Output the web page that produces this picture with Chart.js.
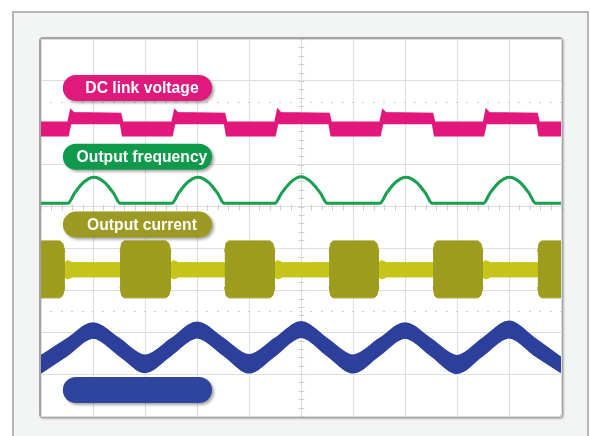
<!DOCTYPE html>
<html>
<head>
<meta charset="utf-8">
<title>Inverter waveforms</title>
<script src="https://cdn.jsdelivr.net/npm/chart.js@4.4.1/dist/chart.umd.min.js"></script>
<style>
  html, body { margin: 0; padding: 0; background: #ffffff; }
  body { width: 590px; height: 436px; position: relative; overflow: hidden; }
  #frame {
    position: absolute; left: 12px; top: 11px; width: 577px; height: 440px;
    background: #f3f5f4; border: 2px solid #b6b6b6; box-sizing: border-box;
  }
  #screen {
    position: absolute; left: 39px; top: 37px; width: 524px; height: 381px;
    background: #ffffff; border: 2px solid #a4a4a4; border-radius: 4px;
    box-sizing: border-box; box-shadow: 1px 1px 2px rgba(0,0,0,0.25);
  }
  #scope { position: absolute; left: 0; top: 0; }
</style>
</head>
<body>
<div id="frame"></div>
<div id="screen"></div>
<canvas id="scope" width="590" height="436"></canvas>
<script>
// Time axis in screen divisions (0..10), levels in vertical divisions (0..9 from bottom).

// DC link voltage: noisy band, upper and lower edge
const dcTime  = [0, 0.52, 0.57, 0.63, 1.53, 1.57, 2.52, 2.57, 2.63, 3.53, 3.57, 4.50, 4.55, 4.61, 5.54, 5.58, 6.52, 6.57, 6.63, 7.53, 7.57, 8.51, 8.56, 8.62, 9.54, 9.58, 10];
const dcUpper = [7.01, 7.01, 7.31, 7.24, 7.22, 7.01, 7.01, 7.31, 7.24, 7.22, 7.01, 7.01, 7.32, 7.24, 7.22, 7.01, 7.01, 7.31, 7.24, 7.22, 7.01, 7.01, 7.32, 7.24, 7.22, 7.01, 7.01];
const dcLower = [6.69, 6.69, 6.98, 6.98, 6.98, 6.69, 6.69, 6.98, 6.98, 6.98, 6.69, 6.69, 6.98, 6.98, 6.98, 6.69, 6.69, 6.98, 6.98, 6.98, 6.69, 6.69, 6.98, 6.98, 6.98, 6.69, 6.69];

// Output frequency: baseline with rounded humps
const freqTime  = [0, 0.52, 0.64, 0.82, 1.02, 1.22, 1.40, 1.52, 2.52, 2.64, 2.82, 3.02, 3.22, 3.40, 3.52, 4.50, 4.62, 4.80, 5.00, 5.20, 5.38, 5.50, 6.52, 6.64, 6.82, 7.02, 7.22, 7.40, 7.52, 8.51, 8.63, 8.81, 9.01, 9.21, 9.39, 9.51, 10];
const freqValue = [5.08, 5.08, 5.31, 5.58, 5.70, 5.58, 5.31, 5.08, 5.08, 5.31, 5.58, 5.70, 5.58, 5.31, 5.08, 5.08, 5.31, 5.58, 5.71, 5.58, 5.31, 5.08, 5.08, 5.31, 5.58, 5.70, 5.58, 5.31, 5.08, 5.08, 5.31, 5.58, 5.70, 5.58, 5.31, 5.08, 5.08];

// Output current, idle band between bursts
const idleTime  = [0, 0.46, 0.50, 0.56, 0.60, 1.52, 2.50, 2.54, 2.60, 2.64, 3.53, 4.50, 4.54, 4.60, 4.64, 5.54, 6.50, 6.54, 6.60, 6.64, 7.54, 8.50, 8.54, 8.60, 8.64, 9.55, 10];
const idleUpper = [3.66, 3.66, 3.71, 3.69, 3.66, 3.66, 3.66, 3.71, 3.69, 3.66, 3.66, 3.66, 3.71, 3.69, 3.66, 3.66, 3.66, 3.71, 3.69, 3.66, 3.66, 3.66, 3.71, 3.69, 3.66, 3.66, 3.66];
const idleLower = [3.32, 3.32, 3.27, 3.29, 3.32, 3.32, 3.32, 3.27, 3.29, 3.32, 3.32, 3.32, 3.27, 3.29, 3.32, 3.32, 3.32, 3.27, 3.29, 3.32, 3.32, 3.32, 3.27, 3.29, 3.32, 3.32, 3.32];

// Output current bursts (null separates one burst from the next)
const burstTime  = [0, 0.36, 0.42, 0.46, 1.0, 1.52, 1.55, 1.60, 2.40, 2.46, 2.50, 3.0, 3.53, 3.56, 3.61, 4.40, 4.46, 4.50, 5.0, 5.54, 5.57, 5.62, 6.40, 6.46, 6.50, 7.0, 7.54, 7.57, 7.62, 8.40, 8.46, 8.50, 9.0, 9.55, 9.58, 9.63, 10];
const burstUpper = [4.18, 4.18, 4.12, 3.92, null, 3.92, 4.13, 4.18, 4.18, 4.12, 3.92, null, 3.92, 4.13, 4.18, 4.18, 4.12, 3.92, null, 3.92, 4.13, 4.18, 4.18, 4.12, 3.92, null, 3.92, 4.13, 4.18, 4.18, 4.12, 3.92, null, 3.92, 4.13, 4.18, 4.18];
const burstLower = [2.82, 2.82, 2.88, 3.08, null, 3.08, 2.87, 2.82, 2.82, 2.88, 3.08, null, 3.08, 2.87, 2.82, 2.82, 2.88, 3.08, null, 3.08, 2.87, 2.82, 2.82, 2.88, 3.08, null, 3.08, 2.87, 2.82, 2.82, 2.88, 3.08, null, 3.08, 2.87, 2.82, 2.82];

// Fourth channel: sinusoidal band
const waveTime  = [0, 0.5, 1, 1.5, 2, 2.5, 3, 3.5, 4, 4.5, 5, 5.5, 6, 6.5, 7, 7.5, 8, 8.5, 9, 9.5, 10];
const waveUpper = [1.44, 1.84, 2.22, 1.85, 1.45, 1.84, 2.24, 1.86, 1.46, 1.85, 2.25, 1.85, 1.45, 1.84, 2.22, 1.84, 1.44, 1.86, 2.26, 1.85, 1.40];
const waveLower = [1.03, 1.44, 1.86, 1.45, 1.04, 1.45, 1.87, 1.46, 1.03, 1.44, 1.88, 1.45, 1.03, 1.44, 1.86, 1.44, 1.02, 1.45, 1.87, 1.44, 1.04];

// Channel tags
const tagTexts  = ['DC link voltage', 'Output frequency', 'Output current', ''];
const tagLevels = [7.83, 6.19, 4.57, 0.62];
const tagColors = ['#e01a7d', '#0f9a4b', '#9d9a24', '#2f449d'];
const tagSpan   = [0.42, 3.29];

const toPoints = (xs, ys) => xs.map((x, i) => ({ x: x, y: ys[i] }));

function band(label, xs, up, lo, color, width) {
  const common = {
    borderColor: color, backgroundColor: color, borderWidth: width,
    pointRadius: 0, tension: 0, spanGaps: false, clip: 0
  };
  return [
    Object.assign({ label: label + ' +', data: toPoints(xs, up), fill: false }, common),
    Object.assign({ label: label + ' -', data: toPoints(xs, lo), fill: '-1' }, common)
  ];
}

// graticule extras: centre-line ticks and dotted reference levels
const graticule = {
  id: 'graticule',
  beforeDatasetsDraw(chart) {
    const { ctx, scales: { x, y } } = chart;
    ctx.save();
    ctx.strokeStyle = '#cfcfcf';
    ctx.lineWidth = 1;
    const cx = Math.round(x.getPixelForValue(5)) + 0.5;
    const cy = Math.round(y.getPixelForValue(5)) + 0.5;
    ctx.beginPath();
    for (let v = 0; v <= 9.001; v += 0.2) {
      const py = Math.round(y.getPixelForValue(v)) + 0.5;
      ctx.moveTo(cx - 3, py); ctx.lineTo(cx + 3, py);
    }
    for (let v = 0; v <= 10.001; v += 0.2) {
      const px = Math.round(x.getPixelForValue(v)) + 0.5;
      ctx.moveTo(px, cy - 3); ctx.lineTo(px, cy + 3);
    }
    ctx.stroke();
    ctx.fillStyle = '#cdcdcd';
    [7.5, 2.5].forEach(level => {
      const py = Math.round(y.getPixelForValue(level));
      for (let v = 0.2; v < 10; v += 0.2) {
        const px = Math.round(x.getPixelForValue(v));
        ctx.fillRect(px - 1, py, 2, 1);
      }
    });
    ctx.restore();
  },
  afterDatasetsDraw(chart) {
    const { ctx, scales: { x, y } } = chart;
    const x0 = x.getPixelForValue(tagSpan[0]);
    const x1 = x.getPixelForValue(tagSpan[1]);
    const h = 26, r = 13;
    ctx.save();
    tagTexts.forEach((text, i) => {
      const cy = y.getPixelForValue(tagLevels[i]);
      const top = cy - h / 2;
      ctx.save();
      ctx.shadowColor = 'rgba(0,0,0,0.35)';
      ctx.shadowOffsetX = 2;
      ctx.shadowOffsetY = 2;
      ctx.shadowBlur = 3;
      ctx.fillStyle = tagColors[i];
      ctx.beginPath();
      ctx.roundRect(x0, top, x1 - x0, h, r);
      ctx.fill();
      ctx.restore();
      if (text) {
        ctx.fillStyle = '#ffffff';
        ctx.font = 'bold 15.7px "Liberation Sans", Arial, sans-serif';
        ctx.textAlign = 'center';
        ctx.textBaseline = 'middle';
        ctx.fillText(text, (x0 + x1) / 2 + 4.5, cy + 1);
      }
    });
    ctx.restore();
  }
};

const datasets = [].concat(
  band('Output current burst', burstTime, burstUpper, burstLower, '#9e9c1f', 1),
  band('Output current', idleTime, idleUpper, idleLower, '#c6c418', 1),
  band('DC link voltage', dcTime, dcUpper, dcLower, '#e2177c', 1.5),
  [{
    label: 'Output frequency', data: toPoints(freqTime, freqValue),
    borderColor: '#17a04d', borderWidth: 3, pointRadius: 0, fill: false,
    cubicInterpolationMode: 'monotone', clip: 0
  }],
  band('Phase', waveTime, waveUpper, waveLower, '#2c3f9b', 1.5).map(d => Object.assign(d, { cubicInterpolationMode: 'monotone' }))
);

new Chart(document.getElementById('scope'), {
  type: 'line',
  data: { datasets: datasets },
  options: {
    responsive: false,
    animation: false,
    devicePixelRatio: 1,
    layout: { padding: { left: 41, right: 29, top: 39, bottom: 20 } },
    plugins: { legend: { display: false }, tooltip: { enabled: false } },
    scales: {
      x: {
        type: 'linear', min: 0, max: 10,
        ticks: { display: false, stepSize: 1 },
        grid: { color: '#dedede', lineWidth: 1, drawTicks: false },
        border: { display: false }
      },
      y: {
        type: 'linear', min: 0, max: 9,
        ticks: { display: false, stepSize: 1 },
        grid: { color: '#dedede', lineWidth: 1, drawTicks: false },
        border: { display: false }
      }
    }
  },
  plugins: [graticule]
});
</script>
</body>
</html>
